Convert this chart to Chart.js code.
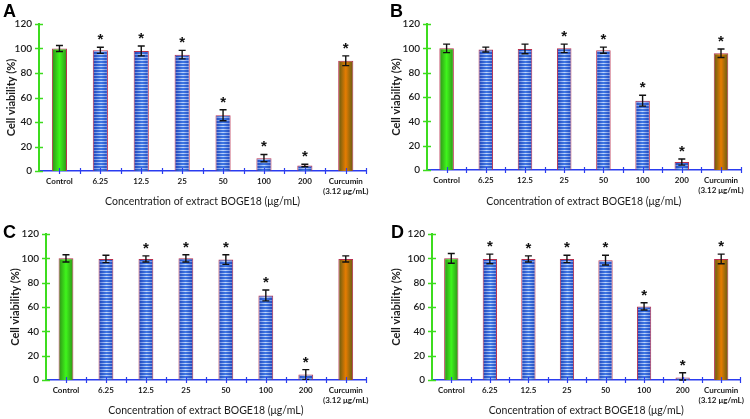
<!DOCTYPE html>
<html>
<head>
<meta charset="utf-8">
<script src="https://cdn.jsdelivr.net/npm/chart.js@4.4.0/dist/chart.umd.min.js"></script>
<style>
  body { margin: 0; background: #fff; }
  #wrap { position: relative; width: 750px; height: 419px; }
  canvas { position: absolute; }
</style>
</head>
<body>
<div id="wrap">
  <canvas id="chartA" width="375" height="210" style="left:0;top:0"></canvas>
  <canvas id="chartB" width="375" height="210" style="left:375px;top:0"></canvas>
  <canvas id="chartC" width="375" height="209" style="left:0;top:210px"></canvas>
  <canvas id="chartD" width="375" height="209" style="left:375px;top:210px"></canvas>
</div>
<script>
// categories shared by all four panels
const categories = ['Control', '6.25', '12.5', '25', '50', '100', '200', ['Curcumin', '(3.12 μg/mL)']];
const yTicks = [0, 20, 40, 60, 80, 100, 120];

// panel A
const viabilityA = [100, 98.5, 98, 95, 45.5, 10.5, 4.5, 90];
const errorA = [2.5, 2.5, 4, 3.5, 4.5, 3, 1, 4];
const starA = [false, true, true, true, true, true, true, true];

// panel B
const viabilityB = [100, 99, 99.5, 100, 98.5, 57, 6.5, 96];
const errorB = [3.5, 2, 4, 3.5, 2.5, 4.5, 2.5, 3.5];
const starB = [false, false, false, true, true, true, true, true];

// panel C
const viabilityC = [100, 99.5, 99.5, 100, 99, 69.5, 4.5, 99.5];
const errorC = [3, 3, 2.5, 3, 4, 4.5, 4, 2.5];
const starC = [false, false, true, true, true, true, true, false];

// panel D
const viabilityD = [100, 99.5, 99.5, 99.5, 98.5, 60.5, 2, 99.5];
const errorD = [4, 4, 2.5, 3, 4, 3, 4, 4];
const starD = [false, true, true, true, true, true, true, true];

Chart.defaults.font.family = 'Lato, "Open Sans", sans-serif';
Chart.defaults.color = '#1a1a1a';

const BAR_PCT = 0.37;

// fill for each bar: green gradient, striped blue, orange gradient
function barFill(c) {
    const chart = c.chart;
    const i = c.dataIndex;
    if (i === undefined || !chart.chartArea) return '#3366cc';
    const xs = chart.scales.x;
    const catW = chart.chartArea.width / categories.length;
    const bw = catW * BAR_PCT;
    const cx = xs.getPixelForValue(i);
    const left = cx - bw / 2;
    const right = cx + bw / 2;
    const g = chart.ctx;

    if (i === 0) {
        const grad = g.createLinearGradient(left, 0, right, 0);
        grad.addColorStop(0, '#2e8f16');
        grad.addColorStop(0.5, '#3ff51c');
        grad.addColorStop(1, '#2e8f16');
        return grad;
    }
    if (i === categories.length - 1) {
        const grad = g.createLinearGradient(left, 0, right, 0);
        grad.addColorStop(0, '#5e5a12');
        grad.addColorStop(0.5, '#e67c02');
        grad.addColorStop(1, '#5e5a12');
        return grad;
    }

    // striped tile, one bar wide
    const w = Math.ceil(bw) + 2;
    const tile = document.createElement('canvas');
    tile.width = w;
    tile.height = 3;
    const t = tile.getContext('2d');
    const base = t.createLinearGradient(0, 0, w, 0);
    base.addColorStop(0, '#1b3fb5');
    base.addColorStop(0.5, '#3f78e4');
    base.addColorStop(1, '#1b3fb5');
    t.fillStyle = base;
    t.fillRect(0, 0, w, 3);
    const stripe = t.createLinearGradient(0, 0, w, 0);
    stripe.addColorStop(0, 'rgba(150,180,240,0.45)');
    stripe.addColorStop(0.5, 'rgba(225,236,255,0.8)');
    stripe.addColorStop(1, 'rgba(150,180,240,0.45)');
    t.fillStyle = stripe;
    t.fillRect(0, 0, w, 1);
    const pat = g.createPattern(tile, 'repeat');
    pat.setTransform(new DOMMatrix([1, 0, 0, 1, Math.round(left) - 1, 0]));
    return pat;
}

const extras = {
    id: 'extras',
    afterDatasetsDraw(chart, args, opts) {
        const { ctx, scales: { y } } = chart;
        const meta = chart.getDatasetMeta(0);
        ctx.save();
        ctx.strokeStyle = '#111';
        ctx.lineWidth = 1.4;
        meta.data.forEach((bar, i) => {
            const v = opts.values[i], e = opts.errors[i];
            const yt = y.getPixelForValue(v + e);
            const yb = y.getPixelForValue(Math.max(v - e, 0));
            ctx.beginPath();
            ctx.moveTo(bar.x, yt); ctx.lineTo(bar.x, yb);
            ctx.moveTo(bar.x - 3.5, yt); ctx.lineTo(bar.x + 3.5, yt);
            ctx.moveTo(bar.x - 3.5, yb); ctx.lineTo(bar.x + 3.5, yb);
            ctx.stroke();
            if (opts.stars[i]) {
                ctx.fillStyle = '#111';
                ctx.font = 'bold 15px "Liberation Sans"';
                ctx.textAlign = 'center';
                ctx.textBaseline = 'alphabetic';
                ctx.fillText('*', bar.x, yt - 3);
            }
        });
        ctx.restore();
    },
    afterDraw(chart, args, opts) {
        const { ctx, chartArea: a, scales: { y } } = chart;
        ctx.save();
        // green y ticks crossing the axis
        ctx.strokeStyle = '#3ddc1e';
        ctx.lineWidth = 1.5;
        y.ticks.forEach(t => {
            const py = Math.round(y.getPixelForValue(t.value)) + 0.5;
            ctx.beginPath();
            ctx.moveTo(a.left - 4, py); ctx.lineTo(a.left + 4, py);
            ctx.stroke();
        });
        // blue x ticks at centres and boundaries
        ctx.strokeStyle = '#2a3cf0';
        ctx.lineWidth = 1.2;
        const catW = a.width / categories.length;
        for (let k = 1; k <= categories.length * 2; k++) {
            const px = Math.round(a.left + k * catW / 2) + 0.5;
            ctx.beginPath();
            ctx.moveTo(px, a.bottom - 3); ctx.lineTo(px, a.bottom + 3);
            ctx.stroke();
        }
        // panel letter
        ctx.fillStyle = '#000';
        ctx.font = 'bold 18px "Liberation Sans"';
        ctx.textAlign = 'left';
        ctx.textBaseline = 'alphabetic';
        ctx.fillText(opts.letter, opts.letterX, opts.letterY);
        ctx.restore();
    }
};

function makePanel(id, letter, values, errors, stars, lay) {
    const canvas = document.getElementById(id);
    const h = canvas.height;
    return new Chart(canvas, {
        type: 'bar',
        data: {
            labels: categories,
            datasets: [{
                data: values,
                backgroundColor: barFill,
                borderColor: '#b8304e',
                borderWidth: 1,
                borderSkipped: 'bottom',
                barPercentage: BAR_PCT,
                categoryPercentage: 1
            }]
        },
        options: {
            responsive: false,
            animation: false,
            events: [],
            layout: { padding: { left: lay.padL, right: lay.padR, top: 24, bottom: 0 } },
            plugins: {
                legend: { display: false },
                tooltip: { enabled: false },
                extras: {
                    values, errors, stars, letter,
                    letterX: lay.letterX, letterY: lay.letterY
                }
            },
            scales: {
                x: {
                    grid: { display: false, drawTicks: false },
                    border: { color: '#2a3cf0', width: 1.5 },
                    ticks: {
                        font: { size: 8, weight: 'bold' },
                        color: '#1a1a1a',
                        padding: 6,
                        maxRotation: 0,
                        autoSkip: false
                    },
                    title: {
                        display: true,
                        text: 'Concentration of extract BOGE18 (μg/mL)',
                        font: { size: 10.5 },
                        color: '#1a1a1a',
                        padding: { top: 0, bottom: 2 }
                    },
                    afterFit: s => { s.height = h - lay.bottom; }
                },
                y: {
                    min: 0,
                    max: 120,
                    afterBuildTicks: s => { s.ticks = yTicks.map(v => ({ value: v })); },
                    grid: { display: false, drawTicks: false },
                    border: { color: '#3ddc1e', width: 2 },
                    ticks: {
                        font: { size: 10, weight: '600' },
                        color: '#1a1a1a',
                        padding: 7
                    },
                    title: {
                        display: true,
                        text: 'Cell viability (%)',
                        font: { size: 11, weight: 'bold' },
                        color: '#1a1a1a',
                        padding: 0
                    },
                    afterFit: s => { s.width = lay.axisX - lay.padL; }
                }
            }
        },
        plugins: [extras]
    });
}

makePanel('chartA', 'A', viabilityA, errorA, starA,
    { padL: 5, padR: 8, axisX: 39, bottom: 171, letterX: 3, letterY: 17 });
makePanel('chartB', 'B', viabilityB, errorB, starB,
    { padL: 15, padR: 4, axisX: 52, bottom: 170, letterX: 15, letterY: 17 });
makePanel('chartC', 'C', viabilityC, errorC, starC,
    { padL: 9, padR: 8, axisX: 46, bottom: 170, letterX: 3, letterY: 28 });
makePanel('chartD', 'D', viabilityD, errorD, starD,
    { padL: 15, padR: 1, axisX: 57, bottom: 170, letterX: 16, letterY: 28 });
</script>
</body>
</html>
